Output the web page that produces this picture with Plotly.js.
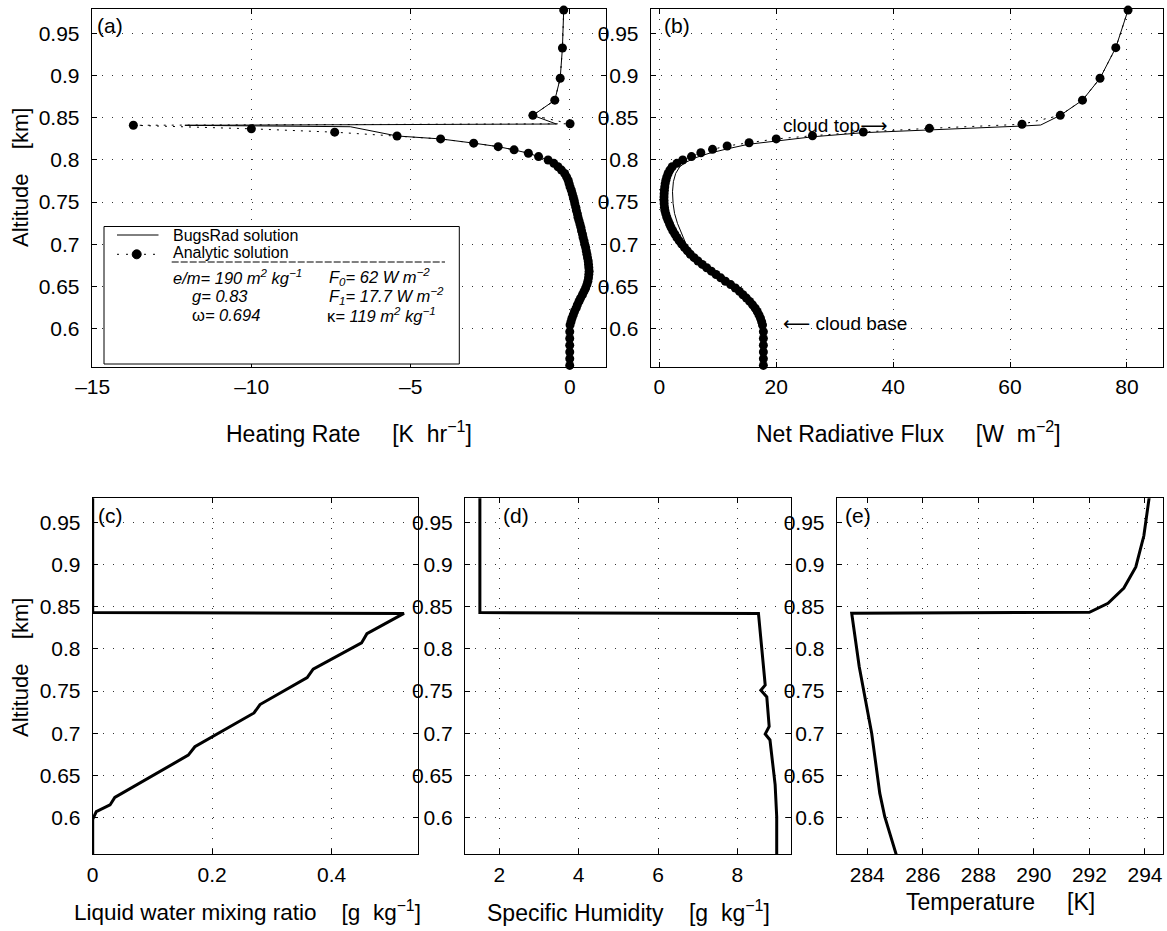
<!DOCTYPE html>
<html>
<head>
<meta charset="utf-8">
<script src="https://cdn.plot.ly/plotly-3.0.1.min.js"></script>
<style>html,body{margin:0;padding:0;background:#fff;}#chart{width:1167px;height:931px;}</style>
</head>
<body>
<div id="chart"></div>
<script>
// ---------------- DATA ----------------
// (a) Heating rate [K/hr] vs altitude [km]
const hrAnalyticAlt = [0.978,0.933,0.897,0.871,0.853,0.843,0.8412,0.837,0.833,0.8285,0.825,0.820,0.8158,0.812,0.808,0.804,
  0.800,0.796,0.792,0.788,0.784,0.780,0.776,0.772,0.768,0.764,
  0.760,0.756,0.752,0.748,0.744,0.740,0.736,0.732,0.728,0.724,
  0.720,0.716,0.712,0.708,0.704,0.700,0.696,0.692,0.688,0.684,
  0.680,0.676,0.672,0.668,0.664,0.660,0.656,0.652,0.648,0.644,
  0.640,0.636,0.632,0.628,0.624,0.620,0.616,0.612,0.608,0.604,
  0.596,0.588,0.580,0.572,0.564,0.556];
const hrAnalytic = [-0.19,-0.23,-0.30,-0.47,-1.16,0.01,-13.72,-10.01,-7.39,-5.43,-4.06,-3.02,-2.25,-1.75,-1.30,-0.98,
  -0.68,-0.50,-0.37,-0.26,-0.16,-0.10,-0.05,-0.02,0.01,0.05,
  0.08,0.11,0.14,0.16,0.19,0.21,0.24,0.26,0.29,0.32,
  0.35,0.37,0.40,0.42,0.45,0.47,0.50,0.52,0.54,0.56,
  0.58,0.59,0.60,0.61,0.60,0.59,0.57,0.54,0.50,0.45,
  0.40,0.34,0.29,0.24,0.20,0.15,0.11,0.07,0.04,0.01,
  0.00,0.00,0.00,0.00,0.00,0.00];
const hrBugsAlt = [0.978,0.933,0.897,0.871,0.853,0.8427,0.8412,0.8395,0.8285,0.825,0.820,0.8158,0.812,0.808,0.804,0.800,0.784,0.760,0.732,0.700,0.668,0.644,0.620,0.600,0.556];
const hrBugs    = [-0.19,-0.23,-0.30,-0.47,-1.16,-0.42,-12.1,-6.9,-5.43,-4.06,-3.02,-2.25,-1.75,-1.30,-0.98,-0.68,-0.16,0.08,0.26,0.47,0.61,0.45,0.15,0.00,0.00];

// (b) Net radiative flux [W m-2]
const fluxAnalyticAlt = [0.978,0.9334,0.897,0.871,0.853,0.8424,0.8376,0.8332,0.8288,0.825,0.8205,0.8166,0.8126,0.8086,0.804,
  0.800,0.796,0.792,0.788,0.784,0.780,0.776,0.772,0.768,0.764,
  0.760,0.756,0.752,0.748,0.744,0.740,0.736,0.732,0.728,0.724,
  0.720,0.716,0.712,0.708,0.704,0.700,0.696,0.692,0.688,0.684,
  0.680,0.676,0.672,0.668,0.664,0.660,0.656,0.652,0.648,0.644,
  0.640,0.636,0.632,0.628,0.624,0.620,0.616,0.612,0.608,0.604,
  0.596,0.588,0.580,0.572,0.564,0.556];
const fluxAnalytic = [80.2,78.1,75.4,72.4,68.6,62.05,46.2,34.9,26.2,20.0,15.35,11.6,9.1,7.1,5.5,
  4.0,3.0,2.2,1.8,1.5,1.28,1.12,1.0,0.92,0.86,
  0.82,0.80,0.80,0.82,0.87,0.95,1.1,1.28,1.5,1.75,
  2.0,2.3,2.65,3.0,3.4,3.83,4.3,4.8,5.3,5.95,
  6.6,7.35,8.1,8.9,9.7,10.5,11.3,12.2,13.0,13.7,
  14.3,14.9,15.45,15.95,16.4,16.75,17.05,17.3,17.5,17.65,
  17.8,17.8,17.8,17.8,17.8,17.8];
const fluxBugsAlt = [0.978,0.9334,0.897,0.871,0.853,0.8415,0.8403,0.8356,0.8336,0.8324,0.8276,0.8229,0.8186,0.8130,0.8079,0.8027,0.7972,0.7920,0.7841,0.7742,0.7623,0.7485,0.7366,0.7247,0.7129,0.7029,0.692,0.680,0.668,0.656,0.644,0.632,0.620,0.608,0.596,0.556];
const fluxBugs    = [80.2,78.1,75.4,72.4,68.6,65.25,62.05,46.2,40.0,34.9,26.3,20.1,15.2,11.5,8.5,6.2,4.5,3.5,2.8,2.4,2.25,2.35,2.6,3.1,3.8,4.4,4.9,6.6,8.9,11.3,13.7,15.45,16.75,17.5,17.8,17.8];

// (c) Liquid water mixing ratio [g/kg]
const lwcAlt = [0.979,0.843,0.842,0.818,0.807,0.776,0.766,0.734,0.724,0.684,0.674,0.624,0.615,0.607,0.598,0.555];
const lwc    = [0,0,0.521,0.459,0.450,0.369,0.359,0.280,0.270,0.171,0.160,0.037,0.029,0.006,0,0];

// (d) Specific humidity [g/kg]
const qAlt = [0.979,0.843,0.842,0.757,0.751,0.743,0.708,0.699,0.692,0.639,0.601,0.555];
const q    = [1.51,1.51,8.53,8.70,8.59,8.74,8.80,8.70,8.82,8.95,8.99,8.99];

// (e) Temperature [K]
const tAlt = [0.979,0.934,0.897,0.872,0.854,0.8433,0.8422,0.779,0.700,0.629,0.601,0.5555];
const temp = [294.15,293.96,293.67,293.24,292.67,292.0,283.44,283.71,284.16,284.45,284.63,285.05];

// Tick labels
const altTicks = [0.6,0.65,0.7,0.75,0.8,0.85,0.9,0.95];
const altTickText = ['0.6','0.65','0.7','0.75','0.8','0.85','0.9','0.95'];
const hrTicks = [-15,-10,-5,0];
const hrTickText = ['\u201315','\u201310','\u20135','0'];
const fluxTicks = [0,20,40,60,80];
const lwcTicks = [0,0.2,0.4];
const lwcTickText = ['0','0.2','0.4'];
const qTicks = [2,4,6,8];
const tTicks = [284,286,288,290,292,294];

// ---------------- LAYOUT HELPERS ----------------
const W = 1167, H = 931;
const FONT = '"Liberation Sans", Arial, Helvetica, sans-serif';
const PX = x => x / W;
const PY = y => 1 - y / H;

function axisBase(domain, range, tickvals, ticktext, anchor, standoff) {
  return {
    domain: domain, range: range, anchor: anchor, autorange: false,
    tickmode: 'array', tickvals: tickvals, ticktext: ticktext || tickvals.map(String),
    showline: true, linecolor: '#000', linewidth: 1, mirror: 'ticks',
    ticks: 'inside', ticklen: 5, tickwidth: 1, tickcolor: '#000',
    showgrid: true, gridcolor: '#333', gridwidth: 1, griddash: '1px,9px',
    zeroline: false, ticklabelstandoff: standoff,
    tickfont: {family: FONT, size: 21, color: '#000'}
  };
}

const rowTop = [PY(366.7), PY(9)];
const rowBot = [PY(854.3), PY(498.3)];
const XS = 1, YS = 7;

const layout = {
  width: W, height: H,
  margin: {l: 0, r: 0, t: 0, b: 0},
  paper_bgcolor: '#fff', plot_bgcolor: '#fff',
  showlegend: false,
  font: {family: FONT, color: '#000'},
  xaxis:  axisBase([PX(91.7), PX(606)], [-15.03, 1.14], hrTicks, hrTickText, 'y', XS),
  yaxis:  axisBase(rowTop, [0.5545, 0.9793], altTicks, altTickText, 'x', YS),
  xaxis2: axisBase([PX(650.7), PX(1163.3)], [-1.48, 86.23], fluxTicks, null, 'y2', XS),
  yaxis2: axisBase(rowTop, [0.5545, 0.9793], altTicks, altTickText, 'x2', YS),
  xaxis3: axisBase([PX(92.7), PX(418.3)], [0, 0.545], lwcTicks, lwcTickText, 'y3', XS),
  yaxis3: axisBase(rowBot, [0.5565, 0.9784], altTicks, altTickText, 'x3', YS),
  xaxis4: axisBase([PX(465), PX(791)], [1.135, 9.35], qTicks, null, 'y4', XS),
  yaxis4: axisBase(rowBot, [0.5565, 0.9784], altTicks, altTickText, 'x4', YS),
  xaxis5: axisBase([PX(836.7), PX(1163.3)], [282.9, 294.66], tTicks, null, 'y5', XS),
  yaxis5: axisBase(rowBot, [0.5565, 0.9784], altTicks, altTickText, 'x5', YS),
  shapes: [],
  annotations: []
};

function note(x, y, text, size, opts) {
  return Object.assign({xref: 'paper', yref: 'paper', x: PX(x), y: PY(y), text: text,
    showarrow: false, xanchor: 'left', yanchor: 'middle',
    font: {family: FONT, size: size, color: '#000'}}, opts || {});
}

const NB = '\u00A0';
// axis titles
layout.annotations.push(
  note(349, 432, 'Heating Rate' + NB.repeat(5) + '[K' + NB + NB + 'hr<sup>\u22121</sup>]', 23, {xanchor: 'center'}),
  note(908, 432, 'Net Radiative Flux' + NB.repeat(5) + '[W' + NB + NB + 'm<sup>\u22122</sup>]', 23, {xanchor: 'center'}),
  note(247, 911, 'Liquid water mixing ratio' + NB.repeat(4) + '[g' + NB + NB + 'kg<sup>\u22121</sup>]', 22.5, {xanchor: 'center'}),
  note(628, 911, 'Specific Humidity' + NB.repeat(4) + '[g' + NB + NB + 'kg<sup>\u22121</sup>]', 23, {xanchor: 'center'}),
  note(1000, 902, 'Temperature' + NB.repeat(5) + '[K]', 23, {xanchor: 'center'}),
  note(20, 178, 'Altitude' + NB.repeat(4) + '[km]', 22, {xanchor: 'center', textangle: -90}),
  note(20, 668, 'Altitude' + NB.repeat(4) + '[km]', 22, {xanchor: 'center', textangle: -90})
);
// panel labels
layout.annotations.push(
  note(95, 25, '(a)', 21), note(662, 25, '(b)', 21),
  note(96, 515, '(c)', 21), note(501, 515, '(d)', 21), note(843, 515, '(e)', 21)
);
// cloud annotations in (b)
const ARROWFONT = '<span style="font-family:\'DejaVu Sans\'">';
layout.annotations.push(
  {xref: 'x2', yref: 'y2', x: 20.9, y: 0.8415, text: 'cloud top' + ARROWFONT + '\u27F6</span>', showarrow: false, xanchor: 'left', yanchor: 'middle', font: {family: FONT, size: 19, color: '#000'}},
  {xref: 'x2', yref: 'y2', x: 20.9, y: 0.606, text: ARROWFONT + '\u27F5</span>' + NB + 'cloud base', showarrow: false, xanchor: 'left', yanchor: 'middle', font: {family: FONT, size: 19, color: '#000'}}
);

// legend box for (a)
layout.shapes.push(
  {type: 'rect', xref: 'paper', yref: 'paper', x0: PX(104), x1: PX(459.3), y0: PY(364), y1: PY(226.5), line: {color: '#000', width: 1}, fillcolor: '#fff', layer: 'above'},
  {type: 'line', xref: 'paper', yref: 'paper', x0: PX(117), x1: PX(158.5), y0: PY(235), y1: PY(235), line: {color: '#000', width: 1}, layer: 'above'},
  {type: 'line', xref: 'paper', yref: 'paper', x0: PX(117), x1: PX(158.5), y0: PY(254.3), y1: PY(254.3), line: {color: '#000', width: 1, dash: '2px,7px'}, layer: 'above'},
  {type: 'circle', xref: 'paper', yref: 'paper', x0: PX(132.2), x1: PX(141.2), y0: PY(258.8), y1: PY(249.8), line: {color: '#000', width: 1}, fillcolor: '#000', layer: 'above'},
  {type: 'line', xref: 'paper', yref: 'paper', x0: PX(171.7), x1: PX(445), y0: PY(262), y1: PY(262), line: {color: '#000', width: 1, dash: '7px,2px'}, layer: 'above'}
);
const LF = 16, PF = 16.5;
layout.annotations.push(
  note(171, 235, 'BugsRad solution', LF),
  note(171, 252, 'Analytic solution', LF),
  note(171, 276.5, '<i>e/m= 190 m<sup>2</sup> kg<sup>\u22121</sup></i>', PF),
  note(327, 276.5, '<i>F<sub>0</sub>= 62 W m<sup>\u22122</sup></i>', PF),
  note(190, 295.5, '<i>g= 0.83</i>', PF),
  note(327, 295.5, '<i>F<sub>1</sub>= 17.7 W m<sup>\u22122</sup></i>', PF),
  note(190, 315, '\u03c9<i>= 0.694</i>', PF),
  note(325, 315, '\u03ba<i>= 119 m<sup>2</sup> kg<sup>\u22121</sup></i>', PF)
);

// ---------------- TRACES ----------------
const thin = {color: '#000', width: 1};
const dotted = {color: '#000', width: 1, dash: '2px,6px'};
const traces = [
  {x: hrBugs, y: hrBugsAlt, xaxis: 'x', yaxis: 'y', mode: 'lines', line: thin, name: 'BugsRad solution'},
  {x: hrAnalytic, y: hrAnalyticAlt, xaxis: 'x', yaxis: 'y', mode: 'lines+markers', line: dotted,
   marker: {size: 9, color: '#000'}, cliponaxis: false, name: 'Analytic solution'},
  {x: fluxBugs, y: fluxBugsAlt, xaxis: 'x2', yaxis: 'y2', mode: 'lines', line: thin},
  {x: fluxAnalytic, y: fluxAnalyticAlt, xaxis: 'x2', yaxis: 'y2', mode: 'lines+markers', line: dotted,
   marker: {size: 9, color: '#000'}, cliponaxis: false},
  {x: lwc, y: lwcAlt, xaxis: 'x3', yaxis: 'y3', mode: 'lines', line: {color: '#000', width: 3}},
  {x: q, y: qAlt, xaxis: 'x4', yaxis: 'y4', mode: 'lines', line: {color: '#000', width: 3}},
  {x: temp, y: tAlt, xaxis: 'x5', yaxis: 'y5', mode: 'lines', line: {color: '#000', width: 3}}
];

Plotly.newPlot('chart', traces, layout, {displayModeBar: false, staticPlot: true});
</script>
</body>
</html>
